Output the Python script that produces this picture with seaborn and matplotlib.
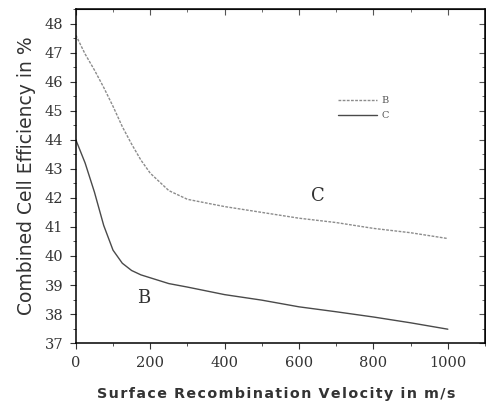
import pandas as pd
import matplotlib
matplotlib.use("Agg")
import matplotlib.pyplot as plt
import seaborn as sns
from matplotlib.ticker import MultipleLocator

# data
velocity = [0, 25, 50, 75, 100, 125, 150, 175, 200, 250, 300, 400, 500, 600, 700, 800, 900, 1000]
eff_upper = [47.6, 46.95, 46.4, 45.8, 45.15, 44.45, 43.85, 43.3, 42.85, 42.25, 41.95, 41.7, 41.5,
             41.3, 41.15, 40.95, 40.8, 40.6]
eff_lower = [44.0, 43.2, 42.2, 41.05, 40.2, 39.75, 39.5, 39.35, 39.25, 39.05, 38.93, 38.67, 38.48,
             38.25, 38.08, 37.9, 37.7, 37.48]
legend_names = ["B", "C"]
curve_labels = ["C", "B"]

sns.set_style("white")
plt.rcParams['font.family'] = ['DejaVu Sans']

df = pd.DataFrame({
    'Velocity': velocity * 2,
    'Efficiency': eff_upper + eff_lower,
    'Series': [legend_names[0]] * len(velocity) + [legend_names[1]] * len(velocity),
})

fig = plt.figure(figsize=(4.86, 4.09), dpi=100)
ax = fig.add_axes([0.156, 0.161, 0.842, 0.817])

sns.lineplot(data=df, x='Velocity', y='Efficiency', hue='Series', style='Series',
             palette={'B': '#8c8c8c', 'C': '#4a4a4a'},
             dashes={'B': (2, 1), 'C': ''}, linewidth=1.0, ax=ax)

ax.set_xlim(0, 1100)
ax.set_ylim(37, 48.5)
ax.xaxis.set_major_locator(MultipleLocator(200))
ax.xaxis.set_minor_locator(MultipleLocator(100))
ax.yaxis.set_major_locator(MultipleLocator(1))
ax.yaxis.set_minor_locator(MultipleLocator(0.5))
ax.set_xticks([0, 200, 400, 600, 800, 1000])

for s in ax.spines.values():
    s.set_color('black')
    s.set_linewidth(1.1)

ax.tick_params(which='both', direction='out', bottom=True, left=True, top=False, right=False,
               color='#333333', labelcolor='#333333')
ax.tick_params(which='major', length=4, width=0.8, pad=5)
ax.tick_params(which='minor', length=2.5, width=0.6)
for lab in ax.get_xticklabels() + ax.get_yticklabels():
    lab.set_family('DejaVu Serif')
    lab.set_fontsize(10.5)

# inward ticks on top and right
top = ax.secondary_xaxis('top')
top.xaxis.set_major_locator(MultipleLocator(200))
top.xaxis.set_minor_locator(MultipleLocator(100))
top.tick_params(which='both', direction='in', labeltop=False, color='#555555')
top.tick_params(which='major', length=4)
top.tick_params(which='minor', length=2.5)
right = ax.secondary_yaxis('right')
right.yaxis.set_major_locator(MultipleLocator(1))
right.yaxis.set_minor_locator(MultipleLocator(0.5))
right.tick_params(which='both', direction='in', labelright=False, color='#555555')
right.tick_params(which='major', length=4)
right.tick_params(which='minor', length=2.5)

ax.set_ylabel('Combined Cell Efficiency in %', fontsize=13.5, color='#333333', labelpad=6)
ax.set_xlabel('S u r f a c e  R e c o m b i n a t i o n  V e l o c i t y  i n  m / s'.replace('  ', '\u2002').replace(' ', '\u200a'),
              fontsize=10.3, fontweight='bold', color='#333333', labelpad=12)
ax.xaxis.set_label_coords(0.49, -0.13)

ax.text(652, 42.07, curve_labels[0], fontsize=13, family='DejaVu Serif', color='#333333',
        ha='center', va='center')
ax.text(182, 38.55, curve_labels[1], fontsize=13, family='DejaVu Serif', color='#333333',
        ha='center', va='center')

leg = ax.legend(loc='upper left', bbox_to_anchor=(0.62, 0.765), frameon=False,
                prop={'family': 'DejaVu Serif', 'size': 7}, handlelength=4,
                labelspacing=0.6, handletextpad=0.4)
for t in leg.get_texts():
    t.set_color('#555555')

fig.savefig('out.png', dpi=100)
